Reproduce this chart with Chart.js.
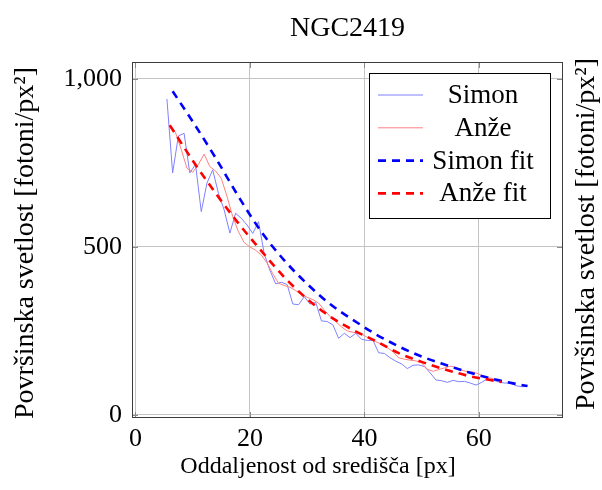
<!DOCTYPE html>
<html>
<head>
<meta charset="utf-8">
<script src="https://cdn.jsdelivr.net/npm/chart.js@4.4.1/dist/chart.umd.min.js"></script>
<style>
    body { margin: 0; background: #ffffff; }
</style>
</head>
<body>
<canvas id="profileChart" width="602" height="490"></canvas>
<script>
// Radial surface brightness profile of NGC2419, two measurements + fits

const simonR = [5.5, 6.5, 7.5, 8.5, 9.5, 10.5, 11.5, 12.5, 13.5, 14.5, 15.5, 16.5, 17.5, 18.5, 19.5, 20.5,
    21.5, 22.5, 23.5, 24.5, 25.5, 26.5, 27.5, 28.5, 29.5, 30.5, 31.5, 32.5, 33.5, 34.5, 35.5, 36.5,
    37.5, 38.5, 39.5, 40.5, 41.5, 42.5, 43.5, 44.5, 45.5, 46.5, 47.5, 48.5, 49.5, 50.5, 51.5, 52.5,
    53.5, 54.5, 55.5, 56.5, 57.5, 58.5, 59.5, 60.5, 61.5, 62.5, 63.5, 64.5, 65.5, 66.5, 67.5, 68.5];
const simonI = [940, 720, 830, 838, 720, 745, 605, 690, 729, 660, 610, 541, 600, 585, 565, 540,
    575, 480, 430, 390, 395, 388, 330, 328, 352, 330, 335, 280, 278, 268, 228, 243,
    230, 243, 225, 222, 222, 185, 183, 170, 160, 152, 138, 148, 149, 144, 125, 104,
    102, 97, 103, 99, 100, 95, 89, 97, 108, 104, 98, 95, 95, 87, 84, 86];

const anzeR = [6, 7, 8, 9, 10, 11, 12, 13, 14, 15, 16, 17, 18, 19, 20, 21, 22, 23, 24, 25,
    26, 27, 28, 29, 30, 31, 32, 33, 34, 35, 36, 37, 38, 39, 40, 41, 42, 43, 44, 45,
    46, 47, 48, 49, 50, 51, 52, 53, 54, 55, 56, 57, 58, 59, 60, 61, 62, 63, 64];
const anzeI = [862, 840, 790, 734, 722, 745, 776, 739, 726, 704, 650, 590, 545, 513, 500, 490, 476, 452, 420, 392,
    385, 380, 370, 358, 350, 343, 333, 312, 293, 278, 262, 250, 246, 243, 236, 226, 218, 210, 200, 188,
    170, 166, 163, 161, 155, 136, 130, 135, 140, 145, 142, 133, 129, 128, 122, 111, 110, 105, 99];

const simonFitR = [6.5, 10, 14, 18, 22, 26, 30, 34, 38, 42, 46, 50, 54, 58, 62, 66, 68.5];
const simonFitI = [963, 873, 765, 650, 545, 460, 390, 330, 283, 240, 204, 174, 150, 128, 109, 94, 86];

const anzeFitR = [6, 10, 14, 18, 22, 26, 30, 34, 38, 42, 46, 50, 54, 58, 62, 64];
const anzeFitI = [862, 757, 660, 570, 488, 410, 345, 293, 253, 220, 184, 158, 136, 117, 104, 98];

const xTicks = [0, 20, 40, 60];
const yTicks = [0, 500, 1000];

const serif = 'Liberation Serif';
const chartTitle = 'NGC2419';
const xTitle = 'Oddaljenost od središča [px]';
const yTitle = 'Površinska svetlost [fotoni/px²]';

function toPoints(xs, ys) {
    return xs.map((x, i) => ({ x: x, y: ys[i] }));
}

function label(ctx, text, size, x, y, rot) {
    ctx.save();
    ctx.translate(x, y);
    if (rot) ctx.rotate(rot);
    ctx.font = size + 'px "' + serif + '"';
    ctx.fillStyle = '#000000';
    ctx.textAlign = 'center';
    ctx.textBaseline = 'middle';
    ctx.fillText(text, 0, 0);
    ctx.restore();
}

// box round the plot area + little inner tick marks (pgfplots style)
const frameTicks = {
    id: 'frameTicks',
    afterDatasetsDraw(chart) {
        const { ctx, chartArea: a, scales } = chart;
        ctx.save();
        ctx.strokeStyle = '#8a8a8a';
        ctx.lineWidth = 1;
        ctx.beginPath();
        xTicks.forEach(v => {
            const px = Math.round(scales.x.getPixelForValue(v)) + 0.5;
            ctx.moveTo(px, a.bottom); ctx.lineTo(px, a.bottom - 6);
            ctx.moveTo(px, a.top); ctx.lineTo(px, a.top + 6);
        });
        yTicks.forEach(v => {
            const py = Math.round(scales.y.getPixelForValue(v)) + 0.5;
            ctx.moveTo(a.left, py); ctx.lineTo(a.left + 6, py);
            ctx.moveTo(a.right, py); ctx.lineTo(a.right - 6, py);
        });
        ctx.stroke();
        ctx.strokeStyle = '#3c3c3c';
        ctx.strokeRect(Math.round(a.left) + 0.5, Math.round(a.top) + 0.5,
            Math.round(a.right - a.left) - 1, Math.round(a.bottom - a.top) - 1);
        ctx.restore();
    }
};

// legend box in the upper right corner, text centred like pgfplots
const boxLegend = {
    id: 'boxLegend',
    afterDraw(chart) {
        const { ctx, chartArea: a } = chart;
        const w = 181, h = 145;
        const left = a.right - 13 - w, top = a.top + 11;
        ctx.save();
        ctx.fillStyle = '#ffffff';
        ctx.fillRect(left, top, w, h);
        ctx.strokeStyle = '#000000';
        ctx.lineWidth = 1;
        ctx.strokeRect(Math.round(left) + 0.5, Math.round(top) + 0.5, w, h);
        chart.data.datasets.forEach((ds, i) => {
            const y = top + 22 + i * 32.8;
            ctx.strokeStyle = ds.borderColor;
            ctx.lineWidth = ds.borderWidth;
            ctx.setLineDash(ds.borderDash || []);
            ctx.beginPath();
            ctx.moveTo(left + 9, y);
            ctx.lineTo(left + 54, y);
            ctx.stroke();
            ctx.setLineDash([]);
            label(ctx, ds.label, 27, left + 114, y + 1);
        });
        ctx.restore();
    }
};

// title, x title and both y titles (right one reads bottom to top too)
const texts = {
    id: 'texts',
    afterDraw(chart) {
        const { ctx, chartArea: a } = chart;
        const midY = (a.top + a.bottom) / 2;
        label(ctx, chartTitle, 28, (a.left + a.right) / 2, 29);
        label(ctx, xTitle, 24, 318, 467);
        label(ctx, yTitle, 28, 26, midY + 3, -Math.PI / 2);
        label(ctx, yTitle, 28, 587, midY - 6, -Math.PI / 2);
    }
};

const ctx = document.getElementById('profileChart');
const profileChart = new Chart(ctx, {
    type: 'line',
    data: {
        datasets: [
            {
                label: 'Simon',
                data: toPoints(simonR, simonI),
                borderColor: '#8080ff',
                borderWidth: 1,
                order: 3
            },
            {
                label: 'Anže',
                data: toPoints(anzeR, anzeI),
                borderColor: '#ff8080',
                borderWidth: 1,
                order: 2
            },
            {
                label: 'Simon fit',
                data: toPoints(simonFitR, simonFitI),
                borderColor: '#0000ff',
                borderWidth: 2.6,
                borderDash: [8, 6],
                cubicInterpolationMode: 'monotone',
                order: 1
            },
            {
                label: 'Anže fit',
                data: toPoints(anzeFitR, anzeFitI),
                borderColor: '#ff0000',
                borderWidth: 2.6,
                borderDash: [8, 6],
                cubicInterpolationMode: 'monotone',
                order: 0
            }
        ]
    },
    options: {
        responsive: false,
        animation: false,
        layout: { padding: { left: 0, right: 39, top: 62, bottom: 0 } },
        elements: { point: { radius: 0 }, line: { fill: false } },
        scales: {
            x: {
                type: 'linear',
                min: -0.6,
                max: 74.7,
                afterBuildTicks: axis => { axis.ticks = xTicks.map(v => ({ value: v })); },
                afterFit: axis => { axis.height = 72; },
                grid: { color: '#c4c4c4', drawTicks: false },
                border: { display: false },
                ticks: {
                    padding: 6,
                    color: '#000000',
                    font: { family: serif, size: 26 }
                }
            },
            y: {
                min: -9,
                max: 1050,
                afterBuildTicks: axis => { axis.ticks = yTicks.map(v => ({ value: v })); },
                afterFit: axis => { axis.width = 132; },
                grid: { color: '#c4c4c4', drawTicks: false },
                border: { display: false },
                ticks: {
                    padding: 10,
                    color: '#000000',
                    font: { family: serif, size: 26 }
                }
            }
        },
        plugins: {
            legend: { display: false },
            tooltip: { enabled: false },
            title: { display: false }
        }
    },
    plugins: [frameTicks, boxLegend, texts]
});
</script>
</body>
</html>
